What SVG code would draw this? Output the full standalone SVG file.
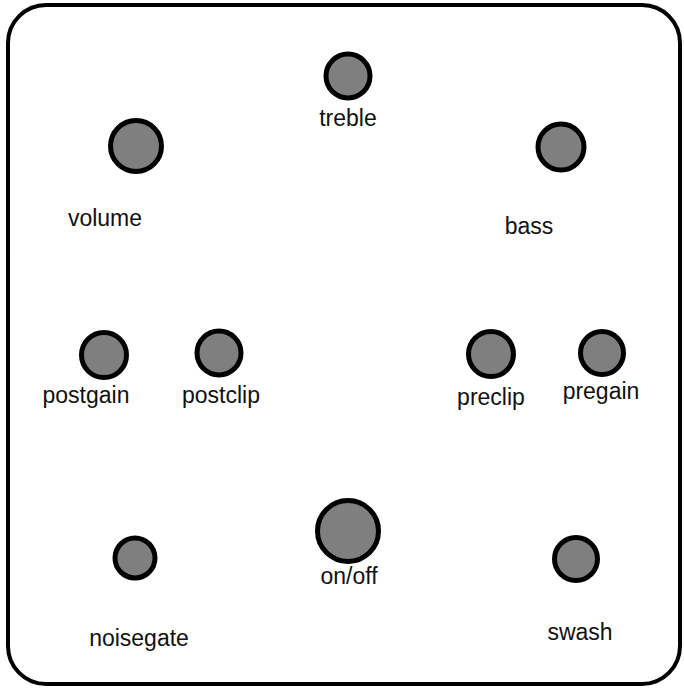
<svg xmlns="http://www.w3.org/2000/svg" width="684" height="688" viewBox="0 0 684 688">
<style>
.knob{fill:#7f7f7f;stroke:#000;stroke-width:5}
.lbl{font-family:"Liberation Sans",Arial,sans-serif;font-size:23px;fill:#111;text-anchor:middle}
</style>
<rect x="0" y="0" width="684" height="688" fill="#fff"/>
<rect id="panel" x="8" y="5" width="672" height="679" rx="38" ry="38" fill="#fff" stroke="#000" stroke-width="4"/>
<g id="connectors"></g>
<g id="treble"><circle class="knob" cx="348" cy="76" r="22"/><text class="lbl" x="348" y="126">treble</text></g>
<g id="volume"><circle class="knob" cx="136" cy="146" r="25.5"/><text class="lbl" x="105" y="226">volume</text></g>
<g id="bass"><circle class="knob" cx="561" cy="147" r="23"/><text class="lbl" x="529" y="234">bass</text></g>
<g id="postgain"><circle class="knob" cx="104" cy="355" r="22.5"/><text class="lbl" x="86" y="403">postgain</text></g>
<g id="postclip"><circle class="knob" cx="219" cy="353" r="22"/><text class="lbl" x="221" y="403">postclip</text></g>
<g id="preclip"><circle class="knob" cx="491" cy="354" r="22.5"/><text class="lbl" x="491" y="405">preclip</text></g>
<g id="pregain"><circle class="knob" cx="602" cy="353" r="21.5"/><text class="lbl" x="601" y="399">pregain</text></g>
<g id="noisegate"><circle class="knob" cx="135" cy="558" r="20"/><text class="lbl" x="139" y="646">noisegate</text></g>
<g id="swash"><circle class="knob" cx="576" cy="559" r="21.5"/><text class="lbl" x="580" y="640">swash</text></g>
<g id="onoff"><circle class="knob" cx="348" cy="531" r="30.5"/><text class="lbl" x="349" y="584">on/off</text></g>
</svg>
